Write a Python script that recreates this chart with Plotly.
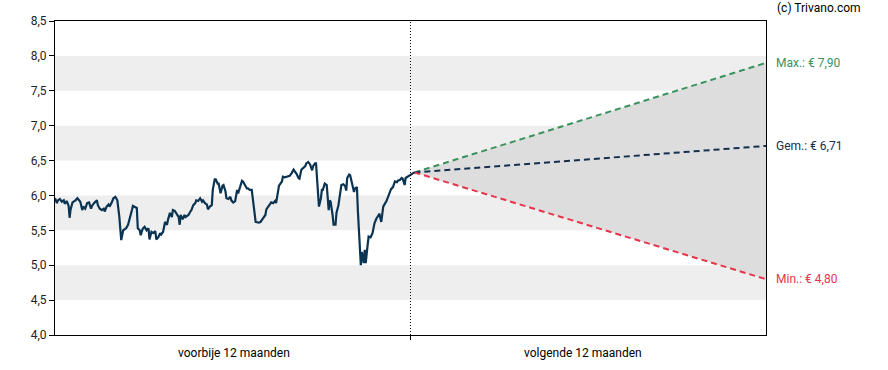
import plotly.graph_objects as go

# ---- data ----
days = [0, 2, 3, 5, 7, 9, 10, 12, 14, 15, 16, 18, 21, 23, 26, 28, 29, 31, 33, 35, 37, 38, 40, 43, 44, 46, 48, 50, 51, 53, 55, 56, 58, 60, 62, 64, 66, 67, 68, 70, 73, 75, 77, 79, 80, 82, 84, 85, 87, 88, 90, 92, 94, 96, 97, 99, 101, 103, 104, 106, 108, 109, 111, 113, 115, 116, 118, 120, 121, 123, 125, 127, 128, 129, 131, 133, 134, 137, 139, 140, 142, 144, 145, 147, 149, 151, 152, 154, 156, 157, 159, 161, 162, 164, 165, 167, 168, 170, 172, 173, 175, 176, 178, 180, 181, 183, 185, 187, 188, 190, 192, 193, 195, 197, 198, 200, 202, 204, 205, 206, 209, 211, 213, 216, 217, 220, 222, 224, 226, 227, 228, 230, 233, 234, 236, 238, 239, 241, 243, 245, 246, 248, 250, 251, 253, 255, 257, 258, 260, 262, 264, 265, 267, 268, 270, 271, 273, 274, 275, 277, 279, 281, 282, 283, 285, 286, 288, 289, 291, 293, 294, 296, 298, 299, 300, 302, 303, 305, 307, 308, 310, 311, 313, 314, 315, 317, 318, 319, 321, 322, 324, 326, 328, 330, 332, 333, 335, 337, 339, 340, 342, 344, 345, 347, 349, 351, 352, 354, 356, 357, 359, 360, 362, 363, 365, 367, 369]
prices = [5.96, 5.89, 5.93, 5.95, 5.91, 5.93, 5.88, 5.92, 5.85, 5.68, 5.80, 5.90, 5.93, 5.96, 5.91, 5.79, 5.84, 5.81, 5.89, 5.90, 5.81, 5.85, 5.89, 5.93, 5.86, 5.81, 5.79, 5.81, 5.77, 5.84, 5.87, 5.84, 5.89, 5.96, 5.98, 5.93, 5.70, 5.43, 5.36, 5.50, 5.53, 5.58, 5.67, 5.79, 5.85, 5.83, 5.82, 5.53, 5.50, 5.43, 5.52, 5.55, 5.50, 5.53, 5.37, 5.48, 5.46, 5.49, 5.37, 5.40, 5.46, 5.44, 5.48, 5.62, 5.58, 5.65, 5.75, 5.69, 5.79, 5.78, 5.74, 5.69, 5.58, 5.72, 5.66, 5.72, 5.69, 5.72, 5.77, 5.79, 5.86, 5.89, 5.93, 5.92, 5.96, 5.91, 5.93, 5.89, 5.87, 5.80, 5.84, 5.86, 6.08, 6.23, 6.23, 6.17, 6.17, 6.03, 6.14, 6.15, 6.06, 5.96, 5.95, 5.98, 5.93, 5.90, 5.92, 6.08, 6.03, 6.13, 6.21, 6.20, 6.15, 6.10, 6.10, 6.08, 6.08, 5.84, 5.65, 5.62, 5.61, 5.62, 5.66, 5.72, 5.80, 5.86, 5.90, 5.89, 5.92, 5.89, 6.00, 6.14, 6.20, 6.27, 6.26, 6.27, 6.27, 6.28, 6.32, 6.37, 6.35, 6.31, 6.25, 6.24, 6.37, 6.40, 6.42, 6.46, 6.48, 6.44, 6.36, 6.42, 6.46, 6.46, 5.98, 5.84, 5.96, 6.08, 6.08, 6.17, 6.15, 5.79, 5.93, 5.91, 5.72, 5.58, 5.58, 5.75, 5.86, 6.03, 6.15, 6.16, 6.13, 6.07, 6.25, 6.30, 6.29, 6.17, 6.05, 6.10, 6.12, 5.77, 5.36, 5.00, 5.19, 5.03, 5.22, 5.03, 5.29, 5.41, 5.40, 5.46, 5.60, 5.67, 5.71, 5.74, 5.62, 5.84, 5.89, 5.91, 5.98, 6.05, 6.09, 6.12, 6.20, 6.19, 6.21, 6.22, 6.25, 6.24, 6.15, 6.25, 6.27, 6.27, 6.30, 6.32, 6.33]

forecast_end_day = 730
divider_day = 365
target_max = 7.90
target_avg = 6.71
target_min = 4.80
label_max = "Max.: € 7,90"
label_avg = "Gem.: € 6,71"
label_min = "Min.: € 4,80"
past_label = "voorbije 12 maanden"
next_label = "volgende 12 maanden"
copyright_text = "(c) Trivano.com"
y_ticks = [4.0, 4.5, 5.0, 5.5, 6.0, 6.5, 7.0, 7.5, 8.0, 8.5]
bands = [(4.5, 5.0), (5.5, 6.0), (6.5, 7.0), (7.5, 8.0)]

# ---- styles ----
FONT = "Roboto, Arial, sans-serif"
C_LINE = "#0b3352"
C_MAX = "#3a935c"
C_AVG = "#13304f"
C_MIN = "#e8334a"
C_FILL = "#dddddd"
C_BAND = "#eeeeee"

last_day = days[-1]
last_price = prices[-1]

fig = go.Figure()

# forecast range fill
fig.add_trace(go.Scatter(
    x=[last_day, forecast_end_day, forecast_end_day, last_day],
    y=[last_price, target_max, target_min, last_price],
    fill="toself", fillcolor=C_FILL, line=dict(width=0),
    mode="lines", hoverinfo="skip", showlegend=False))

for tgt, col in [(target_max, C_MAX), (target_avg, C_AVG), (target_min, C_MIN)]:
    fig.add_trace(go.Scatter(
        x=[last_day, forecast_end_day], y=[last_price, tgt],
        mode="lines", line=dict(color=col, width=2, dash="6px,4px"),
        hoverinfo="skip", showlegend=False))

fig.add_trace(go.Scatter(
    x=days, y=prices, mode="lines",
    line=dict(color=C_LINE, width=2.2), showlegend=False))

shapes = []
for lo, hi in bands:
    shapes.append(dict(type="rect", xref="paper", yref="y", x0=0, x1=1,
                       y0=lo, y1=hi, fillcolor=C_BAND, line=dict(width=0),
                       layer="below"))
shapes.append(dict(type="line", xref="x", yref="y", x0=divider_day, x1=divider_day,
                   y0=4.0, y1=8.5, line=dict(color="#000000", width=1, dash="1px,2px"),
                   layer="above"))
fig.update_layout(shapes=shapes)

annotations = []
for tgt, col, txt in [(target_max, C_MAX, label_max), (target_avg, C_AVG, label_avg),
                      (target_min, C_MIN, label_min)]:
    annotations.append(dict(xref="paper", yref="y", x=1.0113, y=tgt, text=txt,
                            showarrow=False, xanchor="left", yanchor="middle",
                            font=dict(family=FONT, size=12, color=col)))
annotations.append(dict(xref="x", yref="paper", x=184, y=-0.03, text=past_label,
                        showarrow=False, xanchor="center", yanchor="top",
                        font=dict(family=FONT, size=12, color="#000000")))
annotations.append(dict(xref="x", yref="paper", x=542, y=-0.03, text=next_label,
                        showarrow=False, xanchor="center", yanchor="top",
                        font=dict(family=FONT, size=12, color="#000000")))
annotations.append(dict(xref="paper", yref="paper", x=1.0127, y=1.041, text=copyright_text,
                        showarrow=False, xanchor="left", yanchor="middle",
                        font=dict(family=FONT, size=12, color="#000000")))
fig.update_layout(annotations=annotations)

fig.update_layout(
    width=888, height=370,
    margin=dict(l=55, r=122, t=21, b=35),
    paper_bgcolor="white", plot_bgcolor="white",
    separators=",.",
    font=dict(family=FONT, size=12, color="#000000"),
    showlegend=False,
    hovermode=False,
    xaxis=dict(range=[0, forecast_end_day], showgrid=False, zeroline=False,
               showline=True, linecolor="#000000", linewidth=1, mirror=True,
               tickmode="array", tickvals=[divider_day], ticktext=[""],
               ticks="outside", ticklen=4, tickcolor="#000000", fixedrange=True),
    yaxis=dict(range=[4.0, 8.5], showgrid=False, zeroline=False,
               showline=True, linecolor="#000000", linewidth=1, mirror=True,
               tickmode="array", tickvals=y_ticks, tickformat=".1f",
               ticks="outside", ticklen=5, tickcolor="#000000", fixedrange=True,
               tickfont=dict(family=FONT, size=12, color="#222222")),
)

fig.write_html("out.html", config={"displayModeBar": False},
               post_script="document.body.style.margin='0';document.body.style.padding='0';")
